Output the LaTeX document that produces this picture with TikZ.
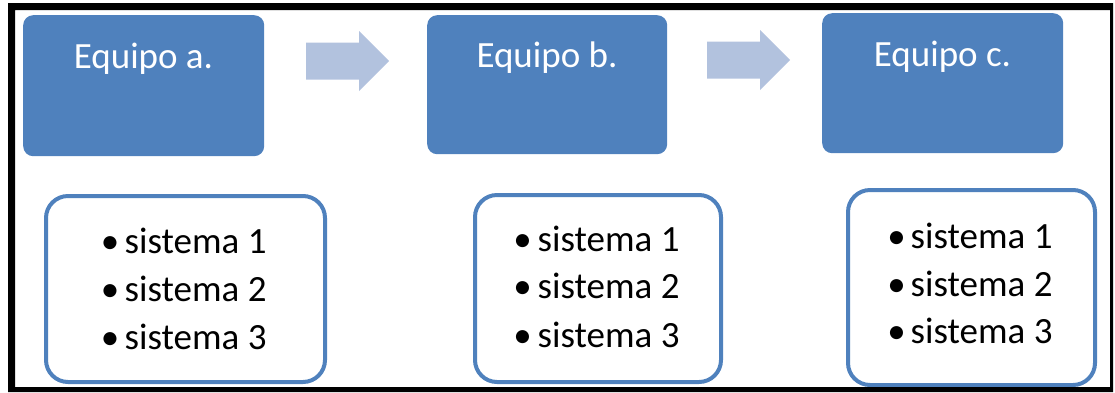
\documentclass[tikz,border=0pt]{standalone}
\usepackage{fontspec}
\setmainfont{Carlito}
\definecolor{teamblue}{RGB}{79,129,189}
\definecolor{arrowblue}{RGB}{178,194,222}
\begin{document}
\begin{tikzpicture}[x=1pt,y=-1pt,
  teambox/.style={fill=teamblue, draw=none, rounded corners=10pt, inner sep=0pt},
  teamlabel/.style={anchor=base, inner sep=0pt, text=white, font=\fontsize{37pt}{44pt}\selectfont},
  sysbox/.style={draw=teamblue, line width=4pt, fill=white, rounded corners=22pt, inner sep=0pt},
  dotlabel/.style={anchor=base, inner sep=0pt, font=\fontsize{37pt}{48pt}\selectfont},
  itemlabel/.style={anchor=base west, inner sep=0pt, font=\fontsize{37pt}{48pt}\selectfont},
  flow/.style={fill=arrowblue, draw=none}
]
\useasboundingbox (0,0) rectangle (1115,392);

% team boxes
\node[teambox, anchor=north west, minimum width=241pt, minimum height=141pt] (ta) at (23,15) {};
\node[teambox, anchor=north west, minimum width=240pt, minimum height=139pt] (tb) at (427,15) {};
\node[teambox, anchor=north west, minimum width=241pt, minimum height=140pt] (tc) at (822,13) {};

\node[teamlabel] (tla) at (143.5,68) {Equipo a.};
\node[teamlabel] (tlb) at (547,67) {Equipo b.};
\node[teamlabel] (tlc) at (942.5,66) {Equipo c.};

% block arrows between the team boxes
\newcommand{\blockarrow}[2]{%
  \fill[flow] (#1,#2-18.5) -- ++(53,0) -- ++(0,-11.5) -- ++(30,30)
    -- ++(-30,30) -- ++(0,-11.5) -- ++(-53,0) -- cycle;}
\blockarrow{306}{61}
\blockarrow{707}{60}

% system boxes
\node[sysbox, minimum width=279pt, minimum height=186pt] (sa) at (185.5,289) {};
\node[sysbox, minimum width=246pt, minimum height=187pt] (sb) at (598,288.5) {};
\node[sysbox, minimum width=247pt, minimum height=195pt] (sc) at (971.5,287.5) {};

% list items, team a
\node[dotlabel] (da1) at (110,253) {\textbullet};
\node[dotlabel] (da2) at (110,301) {\textbullet};
\node[dotlabel] (da3) at (110,349) {\textbullet};
\node[itemlabel] (ia1) at (124.5,253) {sistema 1};
\node[itemlabel] (ia2) at (124.5,301) {sistema 2};
\node[itemlabel] (ia3) at (124.5,349) {sistema 3};

% list items, team b
\node[dotlabel] (db1) at (522.5,251) {\textbullet};
\node[dotlabel] (db2) at (522.5,298) {\textbullet};
\node[dotlabel] (db3) at (522.5,347) {\textbullet};
\node[itemlabel] (ib1) at (537.5,251) {sistema 1};
\node[itemlabel] (ib2) at (537.5,298) {sistema 2};
\node[itemlabel] (ib3) at (537.5,347) {sistema 3};

% list items, team c
\node[dotlabel] (dc1) at (896.5,248) {\textbullet};
\node[dotlabel] (dc2) at (896.5,296) {\textbullet};
\node[dotlabel] (dc3) at (896.5,343) {\textbullet};
\node[itemlabel] (ic1) at (910.5,248) {sistema 1};
\node[itemlabel] (ic2) at (910.5,296) {sistema 2};
\node[itemlabel] (ic3) at (910.5,343) {sistema 3};

% outer frame
\fill[black, even odd rule] (8,3) rectangle (1113,392) (15,10) rectangle (1110,387);
\end{tikzpicture}
\end{document}
